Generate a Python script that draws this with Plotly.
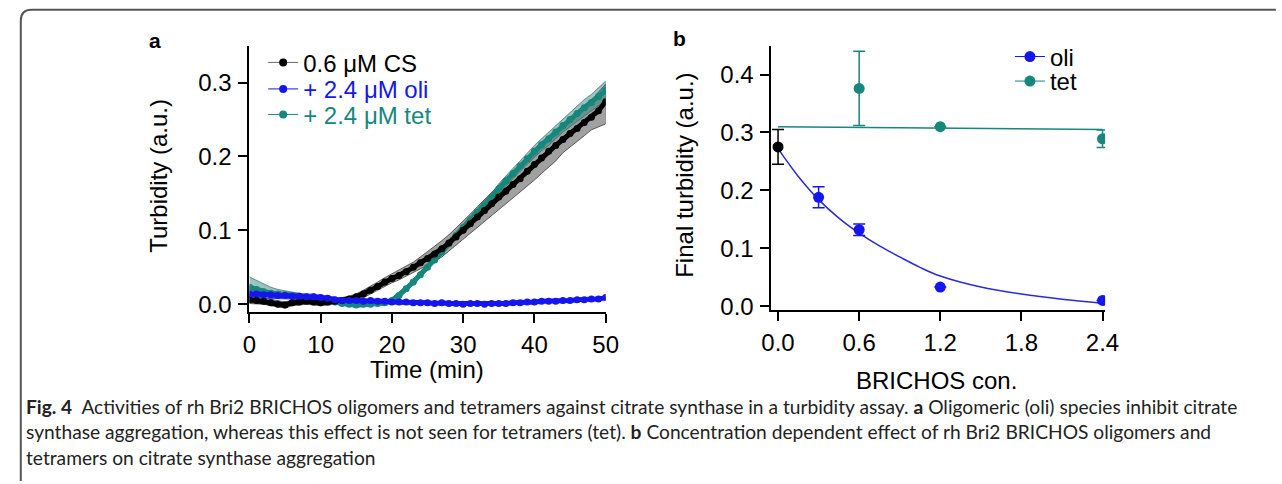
import plotly.graph_objects as go

W, H = 1282, 484

# ---------------- Panel a data (time in min) ----------------
time_min = list(range(0, 51))

cs_mean = [0.006, 0.005, 0.004, 0.002, 0.000, -0.001, 0.002, 0.003, 0.004, 0.003,
           0.002, 0.003, 0.004, 0.005, 0.007, 0.010, 0.014, 0.019, 0.024, 0.030,
           0.035, 0.039, 0.044, 0.050, 0.056, 0.062, 0.068, 0.075, 0.083, 0.091,
           0.100, 0.109, 0.118, 0.127, 0.136, 0.145, 0.153, 0.162, 0.170, 0.180,
           0.189, 0.198, 0.207, 0.215, 0.223, 0.231, 0.238, 0.246, 0.253, 0.262,
           0.274]
cs_upper = [0.012, 0.010, 0.008, 0.006, 0.004, 0.003, 0.006, 0.007, 0.008, 0.007,
            0.006, 0.007, 0.008, 0.009, 0.011, 0.014, 0.019, 0.024, 0.030, 0.036,
            0.041, 0.046, 0.051, 0.057, 0.064, 0.071, 0.078, 0.086, 0.094, 0.103,
            0.112, 0.122, 0.132, 0.142, 0.152, 0.162, 0.171, 0.180, 0.189, 0.198,
            0.207, 0.216, 0.225, 0.234, 0.242, 0.250, 0.258, 0.266, 0.276, 0.287,
            0.298]
cs_lower = [0.001, 0.000, 0.000, -0.002, -0.004, -0.005, -0.002, -0.001, 0.000, -0.001,
            -0.002, -0.001, 0.000, 0.001, 0.003, 0.006, 0.009, 0.014, 0.018, 0.024,
            0.029, 0.033, 0.037, 0.043, 0.048, 0.053, 0.058, 0.064, 0.072, 0.080,
            0.088, 0.096, 0.104, 0.112, 0.120, 0.128, 0.136, 0.144, 0.151, 0.160,
            0.168, 0.177, 0.186, 0.194, 0.205, 0.212, 0.220, 0.228, 0.236, 0.240,
            0.244]

tet_mean = [0.023, 0.020, 0.017, 0.015, 0.014, 0.013, 0.012, 0.011, 0.010, 0.009,
            0.008, 0.006, 0.003, 0.001, 0.000, -0.001, 0.000, 0.000, 0.001, 0.002,
            0.005, 0.012, 0.021, 0.030, 0.040, 0.050, 0.060, 0.071, 0.082, 0.093,
            0.104, 0.114, 0.124, 0.134, 0.144, 0.156, 0.167, 0.177, 0.187, 0.197,
            0.207, 0.216, 0.224, 0.233, 0.242, 0.250, 0.258, 0.266, 0.273, 0.281,
            0.289]
tet_sd = [0.014, 0.012, 0.010, 0.008, 0.006, 0.005, 0.004, 0.004, 0.003, 0.003,
          0.003, 0.003, 0.003, 0.003, 0.003, 0.003, 0.003, 0.003, 0.003, 0.003,
          0.004, 0.004, 0.004, 0.004, 0.004, 0.004, 0.004, 0.005, 0.005, 0.005,
          0.005, 0.006, 0.006, 0.006, 0.006, 0.007, 0.007, 0.007, 0.007, 0.008,
          0.008, 0.008, 0.009, 0.009, 0.009, 0.010, 0.010, 0.011, 0.011, 0.012,
          0.013]

oli_mean = [0.014, 0.014, 0.013, 0.013, 0.012, 0.012, 0.011, 0.011, 0.010, 0.010,
            0.009, 0.008, 0.006, 0.005, 0.005, 0.005, 0.004, 0.005, 0.004, 0.004,
            0.003, 0.003, 0.003, 0.002, 0.002, 0.002, 0.001, 0.002, 0.001, 0.001,
            0.000, 0.001, 0.001, 0.000, 0.001, 0.001, 0.001, 0.002, 0.002, 0.003,
            0.003, 0.004, 0.004, 0.004, 0.005, 0.005, 0.006, 0.006, 0.007, 0.007,
            0.009]
oli_sd = [0.005, 0.005, 0.005, 0.005, 0.005, 0.004, 0.004, 0.004, 0.004, 0.004,
          0.004, 0.003, 0.003, 0.002, 0.002, 0.002, 0.002, 0.002, 0.002, 0.002,
          0.002, 0.002, 0.002, 0.002, 0.002, 0.002, 0.002, 0.002, 0.002, 0.002,
          0.002, 0.002, 0.002, 0.002, 0.002, 0.002, 0.002, 0.002, 0.002, 0.002,
          0.002, 0.002, 0.002, 0.002, 0.002, 0.002, 0.002, 0.002, 0.002, 0.002,
          0.002]

legend_a_names = ["0.6 μM CS", "+ 2.4 μM oli", "+ 2.4 μM tet"]

# ---------------- Panel b data ----------------
cs_conc = [0.0]
cs_final = [0.275]
cs_final_err = [0.030]

oli_conc = [0.3, 0.6, 1.2, 2.4]
oli_final = [0.188, 0.132, 0.033, 0.010]
oli_final_err = [0.018, 0.010, 0.0, 0.0]

tet_conc = [0.6, 1.2, 2.4]
tet_final = [0.376, 0.310, 0.289]
tet_final_err = [0.064, 0.0, 0.015]

oli_fit_x = [0.0, 0.15, 0.3, 0.45, 0.6, 0.75, 0.9, 1.05, 1.2, 1.5, 1.8, 2.1, 2.4]
oli_fit_y = [0.272, 0.224, 0.184, 0.152, 0.126, 0.104, 0.085, 0.067, 0.052,
             0.033, 0.021, 0.012, 0.005]
tet_fit_x = [0.0, 2.4]
tet_fit_y = [0.310, 0.305]

legend_b_names = ["oli", "tet"]

x_ticks_b = [0.0, 0.6, 1.2, 1.8, 2.4]
y_ticks_a = [0.0, 0.1, 0.2, 0.3]
y_ticks_b = [0.0, 0.1, 0.2, 0.3, 0.4]

# ---------------- Styles ----------------
BLACK = "#000000"
BLUE = "#1515ee"
TEAL = "#15877c"
FONT = "Liberation Sans"


def px_x(p):
    return p / W


def px_y(p):
    return 1 - p / H


fig = go.Figure()

# ---- bands (panel a)
fig.add_trace(go.Scatter(
    x=time_min + time_min[::-1], y=cs_upper + cs_lower[::-1],
    fill="toself", fillcolor="rgba(110,110,110,0.65)",
    line=dict(color="rgba(60,60,60,0.8)", width=1), mode="lines",
    showlegend=False, hoverinfo="skip", xaxis="x", yaxis="y"))
tet_up = [m + s for m, s in zip(tet_mean, tet_sd)]
tet_lo = [m - s for m, s in zip(tet_mean, tet_sd)]
fig.add_trace(go.Scatter(
    x=time_min + time_min[::-1], y=tet_up + tet_lo[::-1],
    fill="toself", fillcolor="rgba(40,120,110,0.45)",
    line=dict(color="rgba(40,110,100,0.7)", width=1), mode="lines",
    showlegend=False, hoverinfo="skip", xaxis="x", yaxis="y"))
oli_up = [m + s for m, s in zip(oli_mean, oli_sd)]
oli_lo = [m - s for m, s in zip(oli_mean, oli_sd)]
fig.add_trace(go.Scatter(
    x=time_min + time_min[::-1], y=oli_up + oli_lo[::-1],
    fill="toself", fillcolor="rgba(60,60,230,0.45)",
    line=dict(color="rgba(60,60,200,0.6)", width=1), mode="lines",
    showlegend=False, hoverinfo="skip", xaxis="x", yaxis="y"))

# ---- mean curves (panel a)
for yv, col in [(tet_mean, TEAL), (cs_mean, BLACK), (oli_mean, BLUE)]:
    fig.add_trace(go.Scatter(
        x=time_min, y=yv, mode="lines+markers",
        line=dict(color=col, width=5),
        marker=dict(color=col, size=7),
        showlegend=False, xaxis="x", yaxis="y"))

# ---- legend entries (panel a), one legend per entry for exact spacing
legend_ids_a = ["legend", "legend2", "legend3"]
for name, col, lid in zip(legend_a_names, [BLACK, BLUE, TEAL], legend_ids_a):
    fig.add_trace(go.Scatter(
        x=[None], y=[None], mode="lines+markers",
        name=f'<span style="color:{col}">{name}</span>',
        line=dict(color="rgba(90,90,90,0.9)" if col == BLACK else col, width=1),
        marker=dict(color=col, size=8),
        legend=lid, xaxis="x", yaxis="y"))

# ---- panel b
fig.add_trace(go.Scatter(
    x=tet_fit_x, y=tet_fit_y, mode="lines", line=dict(color=TEAL, width=1.5),
    showlegend=False, xaxis="x2", yaxis="y2"))
fig.add_trace(go.Scatter(
    x=oli_fit_x, y=oli_fit_y, mode="lines",
    line=dict(color="#2b2bd6", width=1.5, shape="spline"),
    showlegend=False, xaxis="x2", yaxis="y2"))
fig.add_trace(go.Scatter(
    x=cs_conc, y=cs_final, mode="markers",
    marker=dict(color=BLACK, size=11),
    error_y=dict(type="data", array=cs_final_err, color=BLACK, thickness=1.5, width=6),
    showlegend=False, xaxis="x2", yaxis="y2"))
fig.add_trace(go.Scatter(
    x=oli_conc, y=oli_final, mode="markers",
    marker=dict(color=BLUE, size=11),
    error_y=dict(type="data", array=oli_final_err, color=BLUE, thickness=1.5, width=6),
    showlegend=False, xaxis="x2", yaxis="y2"))
fig.add_trace(go.Scatter(
    x=tet_conc, y=tet_final, mode="markers",
    marker=dict(color=TEAL, size=11),
    error_y=dict(type="data", array=tet_final_err, color=TEAL, thickness=1.5, width=6),
    showlegend=False, xaxis="x2", yaxis="y2"))
legend_ids_b = ["legend4", "legend5"]
for name, col, lid in zip(legend_b_names, [BLUE, TEAL], legend_ids_b):
    fig.add_trace(go.Scatter(
        x=[None], y=[None], mode="lines+markers", name=name,
        line=dict(color=col, width=1), marker=dict(color=col, size=11),
        legend=lid, xaxis="x2", yaxis="y2"))

axis_common = dict(showgrid=False, zeroline=False, showline=True, linecolor="black",
                   linewidth=2, ticks="outside", ticklen=9, tickwidth=2,
                   tickcolor="black", tickfont=dict(family=FONT, size=24, color="black"))


def leg(xp, yp):
    return dict(x=px_x(xp), y=px_y(yp), xanchor="left", yanchor="middle",
                bgcolor="rgba(0,0,0,0)", font=dict(family=FONT, size=24, color="black"),
                itemwidth=30, tracegroupgap=0, borderwidth=0)


fig.update_layout(
    width=W, height=H, margin=dict(l=0, r=0, t=0, b=0),
    paper_bgcolor="white", plot_bgcolor="white",
    font=dict(family=FONT, size=24, color="black"),
    xaxis=dict(domain=[px_x(244), px_x(607)], range=[0, 50], tickvals=[0, 10, 20, 30, 40, 50],
               anchor="y", ticklabelstandoff=1, **axis_common),
    yaxis=dict(domain=[px_y(318), px_y(47)], range=[-0.0106, 0.3493], tickvals=y_ticks_a,
               tickformat=".1f", anchor="x", ticklabelstandoff=2, **axis_common),
    xaxis2=dict(domain=[px_x(776), px_x(1116)], range=[-0.0486, 2.419], tickvals=x_ticks_b,
                tickformat=".1f", anchor="y2", ticklabelstandoff=1, **axis_common),
    yaxis2=dict(domain=[px_y(316), px_y(47)], range=[-0.0068, 0.449], tickvals=y_ticks_b,
                tickformat=".1f", anchor="x2", ticklabelstandoff=2, **axis_common),
    legend=leg(258, 64),
    legend2=leg(258, 91),
    legend3=leg(258, 117),
    legend4=leg(1019, 58),
    legend5=leg(1019, 83),
)

# axis titles & panel labels
ann = [
    dict(text="Time (min)", x=px_x(425), y=px_y(376)),
    dict(text="Turbidity (a.u.)", x=px_x(152), y=px_y(179), textangle=-90),
    dict(text="BRICHOS con.", x=px_x(944), y=px_y(388)),
    dict(text="Final turbidity (a.u.)", x=px_x(688), y=px_y(179), textangle=-90),
]
for a in ann:
    fig.add_annotation(xref="paper", yref="paper", showarrow=False,
                       xanchor="center", yanchor="middle",
                       font=dict(family=FONT, size=24, color="black"), **a)
fig.add_annotation(text="<b>a</b>", x=px_x(140), y=px_y(41), xref="paper", yref="paper",
                   showarrow=False, xanchor="left", yanchor="middle",
                   font=dict(family=FONT, size=21, color="black"))
fig.add_annotation(text="<b>b</b>", x=px_x(674), y=px_y(39), xref="paper", yref="paper",
                   showarrow=False, xanchor="left", yanchor="middle",
                   font=dict(family=FONT, size=21, color="black"))

# caption
CAP_FONT = "Lato"
caption_lines = [
    "<b>Fig. 4</b>  Activities of rh Bri2 BRICHOS oligomers and tetramers against citrate synthase in a turbidity assay. "
    "<b>a</b> Oligomeric (oli) species inhibit citrate",
    "synthase aggregation, whereas this effect is not seen for tetramers (tet). <b>b</b> Concentration dependent effect "
    "of rh Bri2 BRICHOS oligomers and",
    "tetramers on citrate synthase aggregation",
]
for line, yy in zip(caption_lines, [414, 440, 466]):
    fig.add_annotation(text=line, x=px_x(14), y=px_y(yy), xref="paper", yref="paper",
                       showarrow=False, xanchor="left", yanchor="middle", align="left",
                       font=dict(family=CAP_FONT, size=19.2, color="#222222"))

# frame
fig.add_shape(type="path", xref="paper", yref="paper",
              path=f"M {px_x(11)},{px_y(490)} L {px_x(11)},{px_y(21)} "
                   f"Q {px_x(11)},{px_y(10)} {px_x(22)},{px_y(10)} L {px_x(1290)},{px_y(10)}",
              line=dict(color="#555555", width=2))

fig.write_html("out.html")
